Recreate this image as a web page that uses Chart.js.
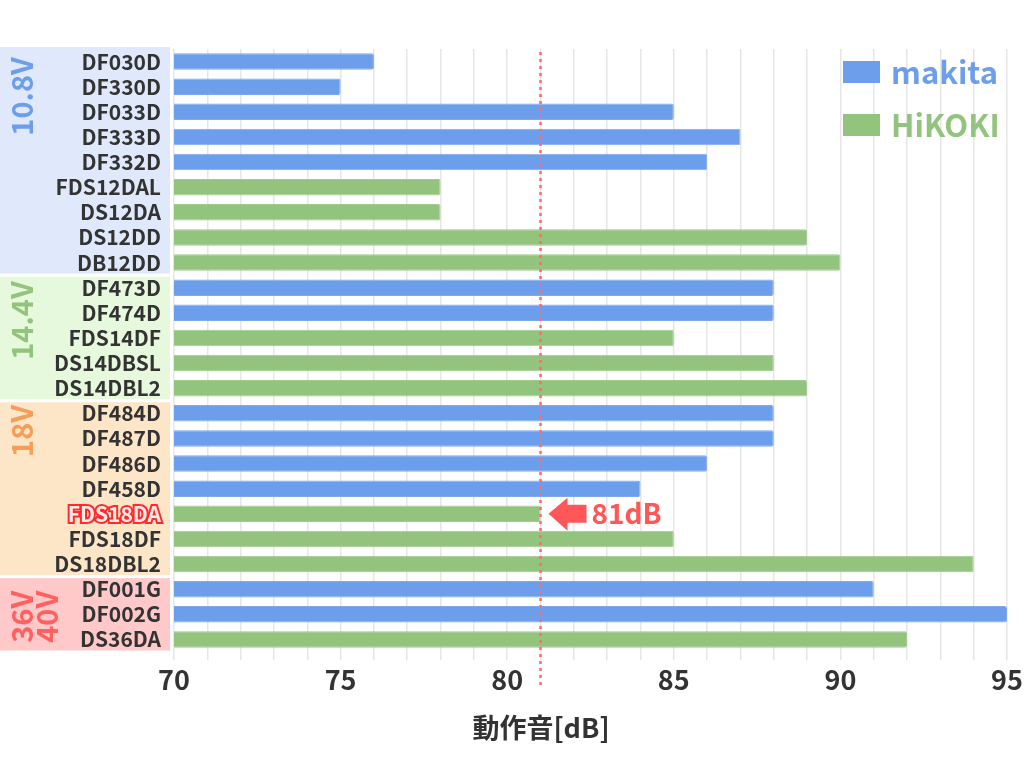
<!DOCTYPE html>
<html>
<head>
<meta charset="utf-8">
<script src="https://cdn.jsdelivr.net/npm/chart.js@4.4.1/dist/chart.umd.min.js"></script>
<style>
html,body{margin:0;padding:0;background:#fff;}
#wrap{width:1024px;height:770px;position:relative;}
</style>
</head>
<body>
<div id="wrap"><canvas id="c" width="1024" height="770"></canvas></div>
<script>
const categories = ['DF030D','DF330D','DF033D','DF333D','DF332D','FDS12DAL','DS12DA','DS12DD','DB12DD',
  'DF473D','DF474D','FDS14DF','DS14DBSL','DS14DBL2',
  'DF484D','DF487D','DF486D','DF458D','FDS18DA','FDS18DF','DS18DBL2',
  'DF001G','DF002G','DS36DA'];
const makitaValues = [76,75,85,87,86,null,null,null,null, 88,88,null,null,null, 88,88,86,84,null,null,null, 91,95,null];
const hikokiValues = [null,null,null,null,null,78,78,89,90, null,null,85,88,89, null,null,null,null,81,85,94, null,null,92];
const seriesNames = ['makita','HiKOKI'];
const groupNames = [['10.8V'],['14.4V'],['18V'],['36V','40V']];
const groupStart = [0,9,14,21];
const groupEnd = [8,13,20,23];
const xTickLabels = [70,75,80,85,90,95];
const xMin = 70, xMax = 95;
const referenceValue = 81;
const referenceLabel = '81dB';
const highlightCategory = 'FDS18DA';
const xTitle = '動作音[dB]';

const FONT = "'Noto Sans CJK JP','Noto Sans',sans-serif";
const seriesColors = ['#6d9eeb','#93c47d'];
const groupBandColors = ['#dfe9fb','#e6f9dc','#fde6c8','#ffc9c9'];
const groupTextColors = ['#6d9eeb','#93c47d','#f89c5a','#ff6161'];
const groupTextOffset = [8,6,4,14];

const overlay = {
  id:'overlay',
  beforeDraw(chart){
    const ctx = chart.ctx, y = chart.scales.y;
    const half = (y.getPixelForValue(1)-y.getPixelForValue(0))/2;
    ctx.save();
    groupNames.forEach((g,i)=>{
      const top = y.getPixelForValue(groupStart[i]) - half + (i===0?-2:1.5);
      const bot = y.getPixelForValue(groupEnd[i]) + half - 1.5;
      ctx.fillStyle = groupBandColors[i];
      ctx.fillRect(0, top, 170, bot-top);
    });
    ctx.restore();
  },
  afterDatasetsDraw(chart){
    const ctx = chart.ctx, x = chart.scales.x, y = chart.scales.y, ca = chart.chartArea;
    ctx.save();
    const rx = x.getPixelForValue(referenceValue);
    ctx.strokeStyle = '#ff6b6b';
    ctx.lineWidth = 2.5;
    ctx.setLineDash([3,4]);
    ctx.beginPath(); ctx.moveTo(rx, ca.top+3); ctx.lineTo(rx, 686); ctx.stroke();
    ctx.setLineDash([]);
    const idx = categories.indexOf(highlightCategory);
    const ay = y.getPixelForValue(idx);
    const tip = rx + 8;
    ctx.fillStyle = '#ff5757';
    ctx.beginPath();
    ctx.moveTo(tip, ay);
    ctx.lineTo(tip+19, ay-16);
    ctx.lineTo(tip+19, ay-9);
    ctx.lineTo(tip+38, ay-9);
    ctx.lineTo(tip+38, ay+9);
    ctx.lineTo(tip+19, ay+9);
    ctx.lineTo(tip+19, ay+17);
    ctx.closePath(); ctx.fill();
    ctx.font = 'bold 28px ' + FONT;
    ctx.textAlign = 'left'; ctx.textBaseline = 'middle';
    ctx.fillText(referenceLabel, tip+43, ay);
    ctx.restore();
  },
  afterDraw(chart){
    const ctx = chart.ctx, y = chart.scales.y;
    const half = (y.getPixelForValue(1)-y.getPixelForValue(0))/2;
    ctx.save();
    groupNames.forEach((g,i)=>{
      const top = y.getPixelForValue(groupStart[i]) - half + groupTextOffset[i];
      ctx.fillStyle = groupTextColors[i];
      ctx.font = 'bold 29px ' + FONT;
      ctx.textAlign = 'right'; ctx.textBaseline = 'middle';
      g.forEach((line,j)=>{
        ctx.save();
        ctx.translate(22 + j*25, top);
        ctx.rotate(-Math.PI/2);
        ctx.fillText(line, 0, 0);
        ctx.restore();
      });
    });
    const legY = [72, 125];
    seriesNames.forEach((n,i)=>{
      ctx.fillStyle = seriesColors[i];
      ctx.fillRect(843, legY[i]-11, 37, 22);
      ctx.font = 'bold 31px ' + FONT;
      ctx.textAlign = 'left'; ctx.textBaseline = 'middle';
      ctx.fillText(n, 891, legY[i]);
    });
    ctx.fillStyle = '#333';
    ctx.font = 'bold 27px ' + FONT;
    ctx.textAlign = 'center'; ctx.textBaseline = 'middle';
    ctx.fillText(xTitle, 541, 728);
    ctx.restore();
  }
};

new Chart(document.getElementById('c'), {
  type:'bar',
  data:{
    labels: categories,
    datasets:[
      {label:seriesNames[0], data:makitaValues, backgroundColor:seriesColors[0], borderColor:'#7fa9ee', borderWidth:1, borderRadius:2, borderSkipped:false, skipNull:true, barPercentage:0.66, categoryPercentage:1},
      {label:seriesNames[1], data:hikokiValues, backgroundColor:seriesColors[1], borderColor:'#9fcb8b', borderWidth:1, borderRadius:2, borderSkipped:false, skipNull:true, barPercentage:0.66, categoryPercentage:1}
    ]
  },
  options:{
    indexAxis:'y',
    responsive:false,
    animation:false,
    layout:{padding:{top:49,right:17,left:0,bottom:0}},
    plugins:{legend:{display:false}, tooltip:{enabled:false}},
    scales:{
      x:{
        min:xMin, max:xMax,
        afterFit(s){ s.height = 118; s.paddingLeft = 0; s.paddingRight = 0; },
        border:{display:false},
        grid:{color:'#e6e6e6', lineWidth:1.5, tickLength:8, drawTicks:true},
        ticks:{
          stepSize:1, autoSkip:false, maxRotation:0, padding:4,
          color:'#333', font:{family:FONT, size:27, weight:'bold'},
          callback:(v)=> xTickLabels.includes(v) ? String(v) : ''
        }
      },
      y:{
        afterFit(s){ s.width = 174; s.paddingTop = 0; s.paddingBottom = 0; },
        border:{display:false},
        grid:{display:false, drawTicks:false},
        ticks:{
          autoSkip:false, padding:13,
          font:{family:FONT, size:21, weight:'bold'},
          color:(c)=> categories[c.index]===highlightCategory ? '#ffeaea' : '#333',
          textStrokeColor:(c)=> categories[c.index]===highlightCategory ? '#ff2a2a' : 'rgba(0,0,0,0)',
          textStrokeWidth:(c)=> categories[c.index]===highlightCategory ? 4 : 0
        }
      }
    }
  },
  plugins:[overlay]
});
</script>
</body>
</html>
